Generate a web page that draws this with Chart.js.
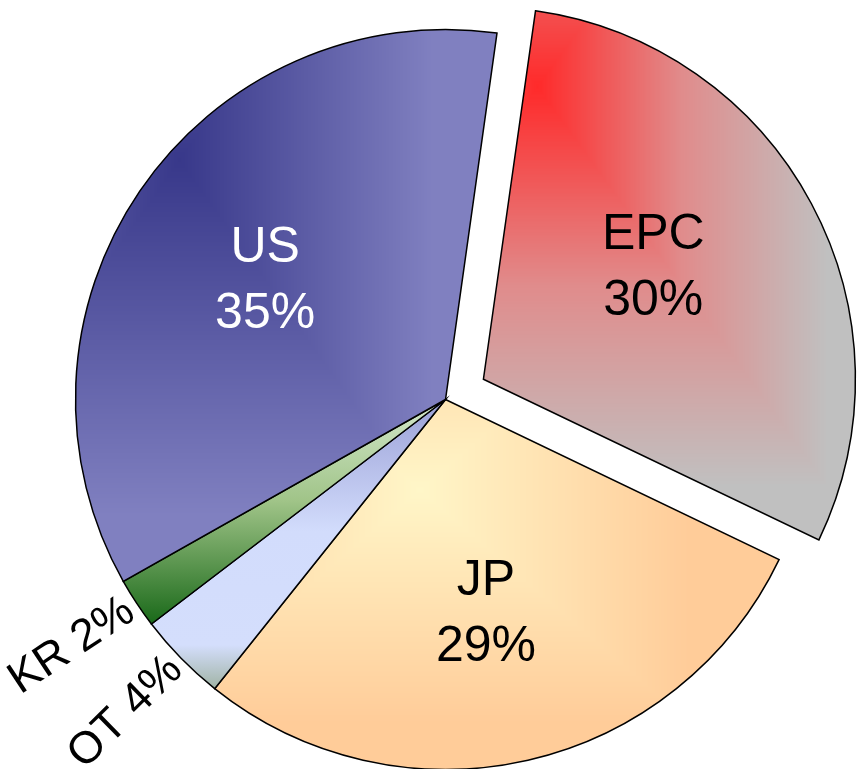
<!DOCTYPE html>
<html>
<head>
<meta charset="utf-8">
<script src="https://cdn.jsdelivr.net/npm/chart.js@4.4.1/dist/chart.umd.min.js"></script>
<style>
  html, body { margin: 0; padding: 0; background: #fff; }
  #wrap { width: 862px; height: 769px; }
</style>
</head>
<body>
<div id="wrap"><canvas id="myCanvas"></canvas></div>
<script>
// slices, clockwise from the top
const regions = ['EPC', 'JP', 'OT', 'KR', 'US'];
const shares = [29.9, 28.6, 3.9, 2.2, 35.4];
const shareText = ['30%', '29%', '4%', '2%', '35%'];

const R = 370;
const FONT = '"Liberation Sans", Arial, sans-serif';

// fills, positions given relative to the pie centre in units of the radius
const fills = [
   { kind: 'rect', at: [0.146, -0.791], size: [0.784, 1.08], stops: [[0, '#ff2a2a'], [0.5, '#e08c8c'], [1, '#c0c0c0']] },
   { kind: 'rect', at: [-0.069, 0.245], size: [0.73, 0.63], stops: [[0, '#fff6c8'], [1, '#ffcc99']] },
   { kind: 'linear', len: 0.79, stops: [[0, '#9aa0d6'], [0.45, '#d2dcfc'], [0.84, '#d4defc'], [1, '#9cb09e']] },
   { kind: 'linear', len: 0.61, stops: [[0, '#d4e8cc'], [0.45, '#a0c488'], [1, '#186818']] },
   { kind: 'rect', at: [-0.718, -0.647], size: [0.684, 0.96], stops: [[0, '#38388a'], [1, '#8080c0']] }
];

const labelStyle = [
   { inside: true, r: 0.555, turn: -6, color: '#000' },
   { inside: true, r: 0.58, turn: 2, color: '#000' },
   { inside: false, r: 1.02, turn: 0, color: '#000' },
   { inside: false, r: 1.02, turn: 0, color: '#000' },
   { inside: true, r: 0.59, turn: 0, color: '#fff' }
];

function hexRgb(h) {
   return [parseInt(h.slice(1, 3), 16), parseInt(h.slice(3, 5), 16), parseInt(h.slice(5, 7), 16)];
}

function stopColor(stops, t) {
   for (let k = 1; k < stops.length; k++) {
      if (t <= stops[k][0]) {
         const a = stops[k - 1], b = stops[k];
         const f = (t - a[0]) / (b[0] - a[0]);
         const ca = hexRgb(a[1]), cb = hexRgb(b[1]);
         return ca.map((v, j) => v + (cb[j] - v) * f);
      }
   }
   return hexRgb(stops[stops.length - 1][1]);
}

let cache = {};
function fillFor(c) {
   const chart = c.chart;
   const i = c.dataIndex;
   if (i === undefined || !chart.chartArea) return '#ccc';
   const area = chart.chartArea;
   const cx = (area.left + area.right) / 2, cy = (area.top + area.bottom) / 2;
   const key = i + ':' + chart.width + 'x' + chart.height + ':' + cx + ',' + cy;
   if (cache[key]) return cache[key];
   const spec = fills[i];
   let out;
   if (spec.kind === 'linear') {
      out = chart.ctx.createLinearGradient(0, cy, 0, cy + spec.len * R);
      spec.stops.forEach(s => out.addColorStop(s[0], s[1]));
   } else {
      // rectangular gradient, done by hand
      const w = chart.width, h = chart.height;
      const gx = cx + spec.at[0] * R, gy = cy + spec.at[1] * R;
      const ax = spec.size[0] * R, ay = spec.size[1] * R;
      const lut = [];
      for (let k = 0; k <= 255; k++) lut.push(stopColor(spec.stops, k / 255));
      const off = document.createElement('canvas');
      off.width = w;
      off.height = h;
      const octx = off.getContext('2d');
      const img = octx.createImageData(w, h);
      const d = img.data;
      for (let y = 0; y < h; y++) {
         const ty = Math.abs(y + 0.5 - gy) / ay;
         for (let x = 0; x < w; x++) {
            const t = Math.min(1, Math.max(Math.abs(x + 0.5 - gx) / ax, ty));
            const col = lut[Math.round(t * 255)];
            const p = (y * w + x) * 4;
            d[p] = col[0];
            d[p + 1] = col[1];
            d[p + 2] = col[2];
            d[p + 3] = 255;
         }
      }
      octx.putImageData(img, 0, 0);
      out = chart.ctx.createPattern(off, 'no-repeat');
   }
   cache[key] = out;
   return out;
}

const sliceLabels = {
   id: 'sliceLabels',
   afterDatasetsDraw(chart) {
      const ctx = chart.ctx;
      const arcs = chart.getDatasetMeta(0).data;
      arcs.forEach((arc, i) => {
         const st = labelStyle[i];
         const mid = (arc.startAngle + arc.endAngle) / 2;
         const shift = (arc.options.offset || 0) / 4;
         const ox = arc.x + Math.cos(mid) * shift;
         const oy = arc.y + Math.sin(mid) * shift;
         const a = mid + st.turn * Math.PI / 180;
         const px = ox + Math.cos(a) * st.r * arc.outerRadius;
         const py = oy + Math.sin(a) * st.r * arc.outerRadius;
         ctx.save();
         ctx.fillStyle = st.color;
         if (st.inside) {
            ctx.font = '50px ' + FONT;
            ctx.textAlign = 'center';
            ctx.textBaseline = 'alphabetic';
            ctx.fillText(regions[i], px, py - 15);
            ctx.fillText(shareText[i], px, py + 51);
         } else {
            ctx.font = '45px ' + FONT;
            ctx.translate(px, py);
            ctx.rotate(a + Math.PI);
            ctx.textAlign = 'right';
            ctx.textBaseline = 'middle';
            ctx.fillText(regions[i] + ' ' + shareText[i], 0, 0);
         }
         ctx.restore();
      });
   }
};

new Chart(document.getElementById('myCanvas'), {
   type: 'pie',
   data: {
      labels: regions,
      datasets: [{
         data: shares,
         backgroundColor: fillFor,
         borderColor: '#000',
         borderWidth: 1.5,
         borderJoinStyle: 'miter',
         offset: c => (c.dataIndex === 0 ? 172 : 0),
         hoverOffset: 0,
         clip: false
      }]
   },
   options: {
      responsive: true,
      maintainAspectRatio: false,
      devicePixelRatio: 1,
      animation: false,
      events: [],
      rotation: 8,
      radius: R,
      layout: { padding: { left: 29, top: 30, right: 0, bottom: 0 } },
      plugins: {
         legend: { display: false },
         tooltip: { enabled: false }
      }
   },
   plugins: [sliceLabels]
});
</script>
</body>
</html>
